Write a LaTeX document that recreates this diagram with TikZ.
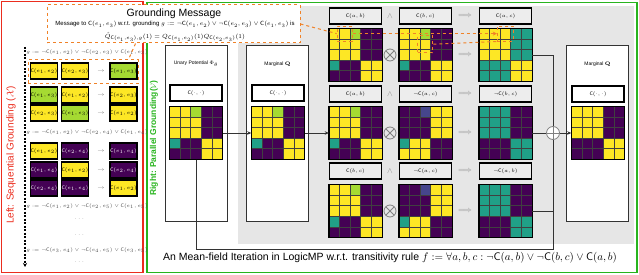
\documentclass[tikz,border=0pt]{standalone}
\usepackage[no-math]{fontspec}
\setmainfont{Liberation Sans}
\usepackage{amsmath,amssymb}
\usetikzlibrary{arrows.meta,calc,positioning}
\definecolor{hY}{RGB}{253,231,37}
\definecolor{hP}{RGB}{68,1,84}
\definecolor{hT}{RGB}{32,160,135}
\definecolor{hL}{RGB}{165,218,50}
\definecolor{hB}{RGB}{70,70,140}
\definecolor{FrameRed}{RGB}{235,45,30}
\definecolor{FrameGreen}{RGB}{40,180,30}
\definecolor{HiOrange}{RGB}{240,130,40}
\definecolor{PanelGray}{RGB}{230,230,230}

% 5x5 cell patterns, one brace group per row
\newcommand{\mapQ}{{Y,Y,L,P,P},{Y,Y,Y,P,P},{Y,Y,Y,P,P},{T,P,P,Y,Y},{P,P,P,Y,Y}}
\newcommand{\mapAC}{{Y,Y,Y,T,T},{Y,Y,Y,T,T},{Y,Y,Y,T,T},{T,T,T,Y,Y},{T,T,T,Y,Y}}
\newcommand{\mapNAC}{{P,P,B,Y,Y},{P,P,P,Y,Y},{P,P,P,Y,Y},{T,Y,Y,P,P},{Y,Y,Y,P,P}}
\newcommand{\mapNBC}{{T,T,T,P,P},{T,T,T,P,P},{T,T,T,P,P},{P,P,P,T,T},{P,P,P,T,T}}
\newcommand{\mapOut}{{Y,Y,Y,P,P},{Y,Y,Y,P,P},{Y,Y,Y,P,P},{P,P,P,Y,Y},{P,P,P,Y,Y}}

\newcommand{\heat}[3]{%
  \node[hm] (#1) at (#2) {};
  \foreach \row [count=\i from 0] in #3 {
    \foreach \cval [count=\j from 0] in \row
      \fill[fill=h\cval] ($(#1.north west)+(\j*10.6,\i*10.6)$) rectangle ++(10.6,10.6);
  }
  \foreach \k in {1,...,4} {
    \draw[cellline] ($(#1.north west)+(\k*10.6,0)$) -- ++(0,53);
    \draw[cellline] ($(#1.north west)+(0,\k*10.6)$) -- ++(53,0);
  }
  \draw[line width=1.4pt] (#1.north west) rectangle (#1.south east);
}

\begin{document}
\begin{tikzpicture}[x=1pt,y=-1pt,
  gbox/.style={draw=black,line width=1.4pt,minimum width=26pt,minimum height=16pt,
               inner sep=0pt,font=\fontsize{4.6}{5}\selectfont},
  ybox/.style={gbox,fill=hY},
  lbox/.style={gbox,fill=hL},
  pbox/.style={gbox,fill=hP,text=white},
  gform/.style={font=\fontsize{4.2}{5}\selectfont,text=black!70},
  gto/.style={text=gray,font=\fontsize{6}{6}\selectfont},
  msgtext/.style={font=\fontsize{6}{7}\selectfont,inner sep=0pt},
  hlbox/.style={draw=HiOrange,dashed,line width=1pt,inner sep=0pt},
  hlline/.style={draw=HiOrange,dashed,line width=1pt},
  panel/.style={draw=black!80,line width=0.8pt,fill=white,minimum width=62pt,minimum height=176pt},
  ptext/.style={font=\fontsize{5}{6}\selectfont},
  slot/.style={draw,line width=1.4pt,fill=white,minimum width=52pt,minimum height=16pt,
               inner sep=0pt,font=\fontsize{5.5}{6}\selectfont},
  lab/.style={slot,fill=black!7},
  hm/.style={minimum width=53pt,minimum height=53pt,inner sep=0pt},
  cellline/.style={black!75,line width=0.4pt},
  op/.style={text=black!45,font=\fontsize{8}{8}\selectfont},
  prodop/.style={circle,draw=gray,line width=0.8pt,minimum size=12pt,inner sep=0pt,
    path picture={\draw[gray,line width=0.8pt] (path picture bounding box.north west) -- (path picture bounding box.south east)
      (path picture bounding box.north east) -- (path picture bounding box.south west);}},
  sumop/.style={circle,draw=gray,line width=0.8pt,minimum size=13pt,inner sep=0pt,fill=white,
    path picture={\draw[gray,line width=0.8pt] (path picture bounding box.north) -- (path picture bounding box.south)
      (path picture bounding box.west) -- (path picture bounding box.east);}},
  flow/.style={draw=black!80,line width=0.7pt},
]
\useasboundingbox (0,0) rectangle (639,275);

% frames and background
\draw[FrameRed,line width=1.5pt] (1.5,1.5) rectangle (143,272.5);
\draw[FrameGreen,line width=1.5pt] (147,2.5) rectangle (637,272.5);
\fill[PanelGray] (238,6) rectangle (634,244);

% grounding message
\node[hlbox,fill=white,minimum width=253pt,minimum height=38pt] (msg) at (173.5,24) {};
\node[font=\fontsize{10.5}{12}\selectfont] (msgtitle) at (174,14) {Grounding Message};
\node[msgtext] (msgline) at (175,24.5)
  {Message to $\mathsf{C}(e_1,e_3)$ w.r.t. grounding $g := \neg\mathsf{C}(e_1,e_2) \vee \neg\mathsf{C}(e_2,e_3) \vee \mathsf{C}(e_1,e_3)$ is};
\node[msgtext] (msgeq) at (175,37)
  {$\hat{Q}_{\mathsf{C}(e_1,e_3),g}(1) = Q_{\mathsf{C}(e_1,e_2)}(1)Q_{\mathsf{C}(e_2,e_3)}(1)$};

% left: sequential grounding
\node[rotate=90,text=FrameRed,font=\fontsize{10}{12}\selectfont] (seqtitle) at (11,155)
  {Left: Sequential Grounding ($\mathcal{X}$)};
\coordinate (seqtop) at (25,47);
\coordinate (seqbot) at (25,267);
\draw[line width=1.3pt,dash pattern=on 2pt off 1.5pt,-{Stealth[length=4pt,width=4pt]}] (seqtop) -- (seqbot);

\node[gform] (f1) at (87,52) {$g := \neg\mathsf{C}(e_1,e_2) \vee \neg\mathsf{C}(e_2,e_3) \vee \mathsf{C}(e_1,e_3)$};
\node[hlbox,minimum width=110pt,minimum height=24pt] (g1) at (83,72) {};
\node[ybox] (r1a) at (44,71) {$\mathsf{C}(e_1,e_2)$};
\node[ybox] (r1b) at (75,71) {$\mathsf{C}(e_2,e_3)$};
\node[gto] (r1t) at (101,71) {$\rightarrow$};
\node[lbox] (r1c) at (123.5,71) {$\mathsf{C}(e_1,e_3)$};
\node[lbox] (r2a) at (44,95) {$\mathsf{C}(e_1,e_3)$};
\node[ybox] (r2b) at (75,95) {$\mathsf{C}(e_1,e_2)$};
\node[gto] (r2t) at (101,95) {$\rightarrow$};
\node[ybox] (r2c) at (123.5,95) {$\mathsf{C}(e_2,e_3)$};
\node[ybox] (r3a) at (44,113) {$\mathsf{C}(e_2,e_3)$};
\node[lbox] (r3b) at (75,113) {$\mathsf{C}(e_1,e_3)$};
\node[gto] (r3t) at (101,113) {$\rightarrow$};
\node[ybox] (r3c) at (123.5,113) {$\mathsf{C}(e_1,e_2)$};

\node[gform] (f2) at (87,132) {$g := \neg\mathsf{C}(e_1,e_2) \vee \neg\mathsf{C}(e_2,e_4) \vee \mathsf{C}(e_1,e_4)$};
\node[ybox] (r4a) at (44,151) {$\mathsf{C}(e_1,e_2)$};
\node[pbox] (r4b) at (75,151) {$\mathsf{C}(e_2,e_4)$};
\node[gto] (r4t) at (101,151) {$\rightarrow$};
\node[pbox] (r4c) at (123.5,151) {$\mathsf{C}(e_1,e_4)$};
\node[pbox] (r5a) at (44,170) {$\mathsf{C}(e_1,e_4)$};
\node[ybox] (r5b) at (75,170) {$\mathsf{C}(e_1,e_2)$};
\node[gto] (r5t) at (101,170) {$\rightarrow$};
\node[pbox] (r5c) at (123.5,170) {$\mathsf{C}(e_2,e_4)$};
\node[pbox] (r6a) at (44,188) {$\mathsf{C}(e_2,e_4)$};
\node[pbox] (r6b) at (75,188) {$\mathsf{C}(e_1,e_4)$};
\node[gto] (r6t) at (101,188) {$\rightarrow$};
\node[ybox] (r6c) at (123.5,188) {$\mathsf{C}(e_1,e_2)$};

\node[gform] (f3) at (87,206) {$g := \neg\mathsf{C}(e_1,e_2) \vee \neg\mathsf{C}(e_2,e_5) \vee \mathsf{C}(e_1,e_5)$};
\node[gform] (d1) at (80,219) {$\cdots$};
\node[gform] (d2) at (80,235) {$\cdots$};
\node[gform] (f4) at (87,250) {$g := \neg\mathsf{C}(e_3,e_4) \vee \neg\mathsf{C}(e_4,e_5) \vee \mathsf{C}(e_3,e_5)$};
\node[gform] (d3) at (80,262) {$\cdots$};

% right: parallel grounding
\node[rotate=90,text=FrameGreen,font=\bfseries\fontsize{8.5}{10}\selectfont] (partitle) at (154,138)
  {Right: Parallel Grounding($\mathcal{V}$)};

\node[panel] (upanel) at (196,133) {};
\node[ptext] (utext) at (196,64) {Unary Potential $\Phi_\theta$};
\node[slot] (uslot) at (196,93) {$\mathsf{C}(\cdot,\cdot)$};
\heat{u}{196,133}{\mapQ}

\node[panel] (mpanel) at (277.5,133) {};
\node[ptext] (mtext) at (277.5,64) {Marginal $\mathbf{Q}$};
\node[slot] (mslot) at (278,93) {$\mathsf{C}(\cdot,\cdot)$};
\heat{m}{278,133}{\mapQ}

\node[panel] (fpanel) at (597.5,133) {};
\node[ptext] (ftext) at (597.5,64) {Marginal $\mathbf{Q}$};
\node[slot] (fslot) at (598,94) {$\mathsf{C}(\cdot,\cdot)$};
\heat{f}{598,133}{\mapOut}

% three groundings of the rule
\node[lab] (la1) at (355.5,16) {$\mathsf{C}(a,b)$};
\node[lab] (lb1) at (425.5,16) {$\mathsf{C}(b,c)$};
\node[lab] (lc1) at (505.5,16) {$\mathsf{C}(a,c)$};
\node[lab] (la2) at (355.5,94) {$\mathsf{C}(a,b)$};
\node[lab] (lb2) at (425.5,94) {$\neg\mathsf{C}(a,c)$};
\node[lab] (lc2) at (505.5,94) {$\neg\mathsf{C}(b,c)$};
\node[lab] (la3) at (355.5,171) {$\mathsf{C}(b,c)$};
\node[lab] (lb3) at (425.5,171) {$\neg\mathsf{C}(a,c)$};
\node[lab] (lc3) at (505.5,171) {$\neg\mathsf{C}(a,b)$};

\foreach \y in {16,94,171} {
  \node[op] at (390,\y) {$\wedge$};
  \node[op] at (465,\y) {$\Longrightarrow$};
}
\foreach \y in {55,133,211} {
  \node[prodop] at (390,\y) {};
  \node[op] at (465,\y) {$\Longrightarrow$};
}

\heat{a1}{355.5,55}{\mapQ}
\heat{b1}{425.5,55}{\mapQ}
\heat{c1}{505.5,55}{\mapAC}
\heat{a2}{355.5,133}{\mapQ}
\heat{b2}{425.5,133}{\mapNAC}
\heat{c2}{505.5,133}{\mapNBC}
\heat{a3}{355.5,211}{\mapQ}
\heat{b3}{425.5,211}{\mapNAC}
\heat{c3}{505.5,211}{\mapNBC}

\node[sumop] (sum) at (553,133) {};
\coordinate (loop) at (553,249);

\draw[flow,-{Stealth[length=4pt,width=3.5pt]}] (u) -- (m);
\draw[flow,-{Stealth[length=4pt,width=3.5pt]}] (m) -- (a2);
\draw[flow] (c1.east) -| (sum);
\draw[flow] (c2) -- (sum);
\draw[flow] (c3.east) -| (loop);
\draw[flow] (u.south) |- (loop) -- (sum);
\draw[flow,-{Stealth[length=4pt,width=3.5pt]}] (sum) -- (f);

% highlighted cells
\node[hlbox,minimum width=15pt,minimum height=15pt] (hA) at ($(a1.north west)+(15.9,5.3)$) {};
\node[hlbox,minimum width=15pt,minimum height=17pt] (hB) at ($(b1.north west)+(26.5,15.9)$) {};
\node[hlbox,minimum width=16pt,minimum height=15pt] (hC) at ($(c1.north west)+(26.5,5.3)$) {};
\draw[hlline] (msg.east) -- (hA.west);
\draw[hlline,-{Stealth[length=4pt,width=4pt]}] (hA.east) -- (hC.west);
\draw[hlline] (hB.east) -- (hC.south west);
\draw[hlline] ($(msg.south east)+(-165,0)$) -- ($(g1.north east)+(-10,0)$);

\node[font=\fontsize{10.5}{12}\selectfont] (caption) at (390,258)
  {An Mean-field Iteration in LogicMP w.r.t. transitivity rule $f := \forall a,b,c : \neg\mathsf{C}(a,b) \vee \neg\mathsf{C}(b,c) \vee \mathsf{C}(a,b)$};
\end{tikzpicture}
\end{document}
